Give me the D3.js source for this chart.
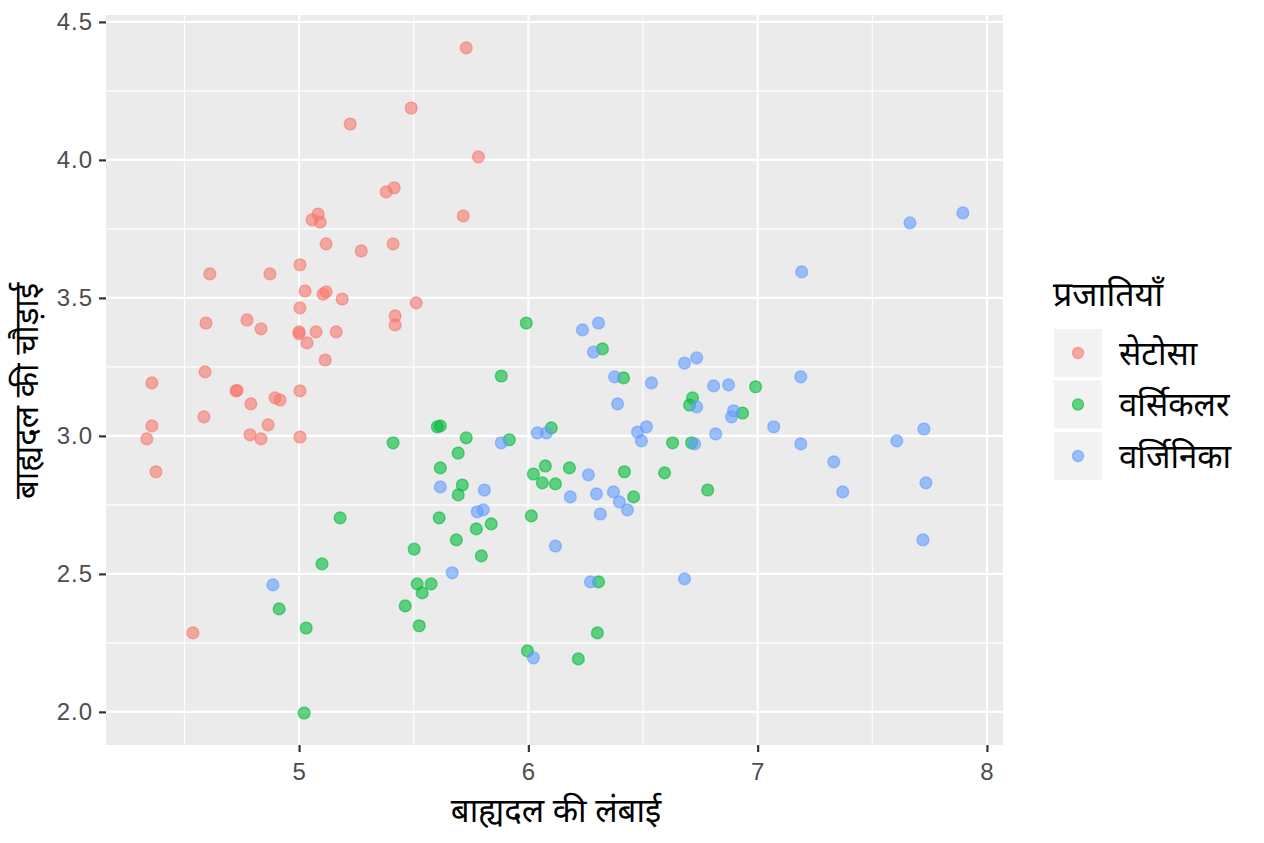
<!DOCTYPE html>
<html>
<head>
<meta charset="utf-8">
<script src="https://cdn.jsdelivr.net/npm/d3@7"></script>
<style>
  body { margin: 0; background: #fff; }
  text { font-family: "Noto Sans", "Roboto", sans-serif; }
  .tick text { font-family: "Liberation Sans", "Roboto", sans-serif; }
</style>
</head>
<body>
<div id="chart"></div>
<script>
// Species names and colours
const species = ["सेटोसा", "वर्सिकलर", "वर्जिनिका"];
const speciesColors = ["#F8766D", "#00BA38", "#619CFF"];

// Sepal length / width pairs (jittered)
const setosa = [
    [5.729, 4.406], [5.489, 4.188], [5.223, 4.130], [5.782, 4.011], [5.716, 3.797],
    [5.380, 3.884], [5.415, 3.899], [5.083, 3.804], [5.057, 3.783], [5.092, 3.775],
    [5.118, 3.696], [5.271, 3.670], [5.410, 3.696], [5.004, 3.620], [4.611, 3.587],
    [4.873, 3.587], [5.026, 3.525], [5.105, 3.514], [5.118, 3.522], [5.188, 3.496],
    [5.511, 3.482], [5.004, 3.464], [5.419, 3.435], [5.419, 3.402], [4.594, 3.409],
    [4.773, 3.420], [4.834, 3.388], [5.000, 3.377], [5.000, 3.370], [5.074, 3.377],
    [5.162, 3.377], [5.035, 3.337], [5.114, 3.275], [4.590, 3.232], [4.358, 3.192],
    [4.725, 3.163], [4.730, 3.165], [4.790, 3.116], [4.895, 3.138], [4.917, 3.130],
    [5.004, 3.163], [4.585, 3.069], [4.358, 3.036], [4.865, 3.040], [4.336, 2.989],
    [4.786, 3.004], [4.834, 2.989], [5.004, 2.996], [4.376, 2.870], [4.537, 2.286]
];

const versicolor = [
    [5.882, 3.217], [5.603, 3.033], [5.616, 3.036], [5.410, 2.975], [5.729, 2.993],
    [5.694, 2.938], [5.616, 2.884], [5.917, 2.986], [5.991, 3.409], [6.323, 3.315],
    [6.415, 3.210], [6.991, 3.178], [6.716, 3.138], [6.703, 3.112], [6.934, 3.083],
    [6.100, 3.029], [6.629, 2.975], [6.712, 2.975], [6.074, 2.891], [6.022, 2.862],
    [6.179, 2.884], [6.419, 2.870], [6.594, 2.866], [6.061, 2.830], [6.118, 2.826],
    [6.459, 2.779], [6.782, 2.804], [6.013, 2.710], [5.712, 2.822], [5.694, 2.786],
    [5.179, 2.703], [5.611, 2.703], [5.838, 2.681], [5.773, 2.663], [5.686, 2.623],
    [5.502, 2.590], [5.100, 2.536], [5.515, 2.464], [5.576, 2.464], [5.537, 2.431],
    [6.306, 2.471], [4.913, 2.373], [5.463, 2.384], [5.031, 2.304], [5.524, 2.312],
    [6.301, 2.286], [5.996, 2.221], [6.218, 2.192], [5.022, 1.996], [5.795, 2.565]
];

const virginica = [
    [6.236, 3.384], [6.306, 3.409], [6.284, 3.304], [6.376, 3.214], [6.537, 3.192],
    [6.681, 3.264], [6.734, 3.283], [6.808, 3.181], [6.873, 3.185], [6.734, 3.105],
    [6.895, 3.091], [6.886, 3.069], [6.389, 3.116], [7.070, 3.033], [6.039, 3.011],
    [6.079, 3.011], [6.515, 3.033], [6.476, 3.014], [6.493, 2.982], [6.817, 3.007],
    [6.725, 2.971], [6.262, 2.859], [6.183, 2.779], [6.297, 2.790], [6.371, 2.797],
    [6.397, 2.761], [6.432, 2.732], [6.314, 2.717], [5.616, 2.815], [5.808, 2.804],
    [5.777, 2.725], [5.803, 2.732], [6.118, 2.601], [5.668, 2.504], [4.886, 2.460],
    [6.271, 2.471], [6.022, 2.196], [7.664, 3.772], [7.895, 3.808], [7.192, 3.594],
    [7.188, 3.214], [7.188, 2.971], [7.332, 2.906], [7.371, 2.797], [7.607, 2.982],
    [7.725, 3.025], [7.734, 2.830], [7.721, 2.623], [6.681, 2.482], [5.882, 2.975]
];

const xTicks = [5, 6, 7, 8];
const xMinor = [4.5, 5.5, 6.5, 7.5];
const yTicks = [2.0, 2.5, 3.0, 3.5, 4.0, 4.5];
const yMinor = [2.25, 2.75, 3.25, 3.75, 4.25];

const xTitle = "बाह्यदल की लंबाई";
const yTitle = "बाह्यदल की चौड़ाई";
const legendTitle = "प्रजातियाँ";

const width = 1264, height = 843;
const panel = { left: 106, right: 1003, top: 15, bottom: 745 };

const svg = d3.select("#chart")
    .append("svg")
    .attr("width", width)
    .attr("height", height);

const x = d3.scaleLinear()
    .domain([4.158, 8.07])
    .range([panel.left, panel.right]);

const y = d3.scaleLinear()
    .domain([1.880, 4.525])
    .range([panel.bottom, panel.top]);

// Panel background
svg.append("rect")
    .attr("x", panel.left)
    .attr("y", panel.top)
    .attr("width", panel.right - panel.left)
    .attr("height", panel.bottom - panel.top)
    .attr("fill", "#EBEBEB");

// Grid lines
const grid = svg.append("g");
grid.selectAll(".xminor").data(xMinor).join("line")
    .attr("x1", d => x(d)).attr("x2", d => x(d))
    .attr("y1", panel.top).attr("y2", panel.bottom)
    .attr("stroke", "#fff").attr("stroke-width", 1.1);
grid.selectAll(".yminor").data(yMinor).join("line")
    .attr("y1", d => y(d)).attr("y2", d => y(d))
    .attr("x1", panel.left).attr("x2", panel.right)
    .attr("stroke", "#fff").attr("stroke-width", 1.1);
grid.selectAll(".xmajor").data(xTicks).join("line")
    .attr("x1", d => x(d)).attr("x2", d => x(d))
    .attr("y1", panel.top).attr("y2", panel.bottom)
    .attr("stroke", "#fff").attr("stroke-width", 2.2);
grid.selectAll(".ymajor").data(yTicks).join("line")
    .attr("y1", d => y(d)).attr("y2", d => y(d))
    .attr("x1", panel.left).attr("x2", panel.right)
    .attr("stroke", "#fff").attr("stroke-width", 2.2);

// Axes
const xAxis = svg.append("g")
    .attr("transform", `translate(0,${panel.bottom})`)
    .call(d3.axisBottom(x).tickValues(xTicks).tickSize(7).tickPadding(11).tickFormat(d3.format("d")));
const yAxis = svg.append("g")
    .attr("transform", `translate(${panel.left},0)`)
    .call(d3.axisLeft(y).tickValues(yTicks).tickSize(7).tickPadding(6).tickFormat(d3.format(".1f")));

[xAxis, yAxis].forEach(g => {
    g.select(".domain").remove();
    g.selectAll(".tick line").attr("stroke", "#333").attr("stroke-width", 2.2);
    g.selectAll(".tick text")
        .attr("fill", "#4D4D4D")
        .style("font-size", "24px")
        .style("letter-spacing", "1px");
});

// Points
const groups = [setosa, versicolor, virginica];
groups.forEach((pts, i) => {
    svg.append("g")
        .selectAll("circle")
        .data(pts)
        .join("circle")
        .attr("cx", d => x(d[0]))
        .attr("cy", d => y(d[1]))
        .attr("r", 5.9)
        .attr("fill", speciesColors[i])
        .attr("fill-opacity", 0.6)
        .attr("stroke", speciesColors[i])
        .attr("stroke-opacity", 0.6)
        .attr("stroke-width", 1.4);
});

// Axis titles
svg.append("text")
    .attr("x", 556)
    .attr("y", 822)
    .attr("text-anchor", "middle")
    .style("font-size", "33px")
    .attr("fill", "#000")
    .text(xTitle);

svg.append("text")
    .attr("transform", "translate(38,391) rotate(-90)")
    .attr("text-anchor", "middle")
    .style("font-size", "33px")
    .attr("fill", "#000")
    .text(yTitle);

// Legend
const legend = svg.append("g").attr("transform", "translate(1053,0)");
legend.append("text")
    .attr("x", 0)
    .attr("y", 306)
    .style("font-size", "34px")
    .attr("fill", "#000")
    .text(legendTitle);

const keys = legend.selectAll(".key")
    .data(species)
    .join("g")
    .attr("transform", (d, i) => `translate(1,${329 + i * 51.5})`);

keys.append("rect")
    .attr("width", 48)
    .attr("height", 48)
    .attr("fill", "#F2F2F2");

keys.append("circle")
    .attr("cx", 24)
    .attr("cy", 24)
    .attr("r", 5.5)
    .attr("fill", (d, i) => speciesColors[i])
    .attr("fill-opacity", 0.6)
    .attr("stroke", (d, i) => speciesColors[i])
    .attr("stroke-opacity", 0.6)
    .attr("stroke-width", 1.4);

keys.append("text")
    .attr("x", 65)
    .attr("y", 24)
    .attr("dy", "0.35em")
    .style("font-size", "33px")
    .attr("fill", "#000")
    .text(d => d);
</script>
</body>
</html>
